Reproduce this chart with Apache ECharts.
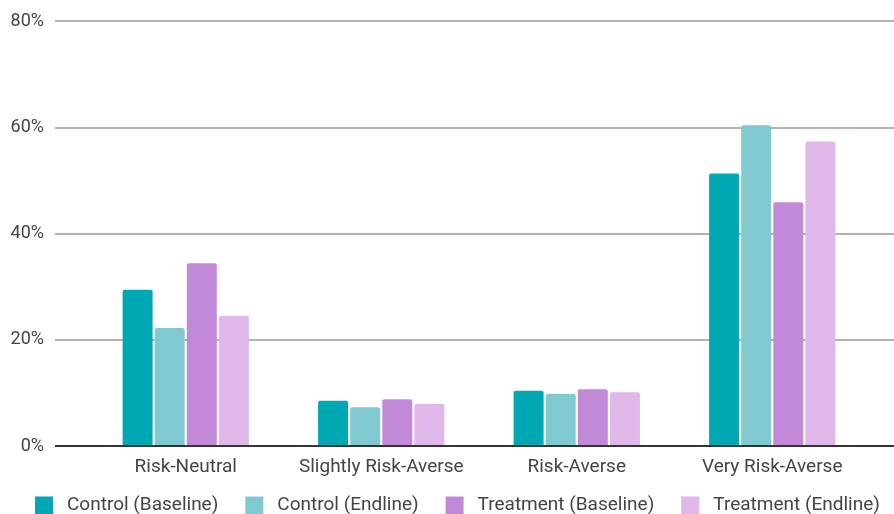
<!DOCTYPE html>
<html><head><meta charset="utf-8">
<script src="https://cdn.jsdelivr.net/npm/echarts@6/dist/echarts.min.js"></script>
<style>html,body{margin:0;padding:0;background:#fff}#c{width:894px;height:514px}</style>
</head><body><div id="c"></div>
<script>
const categories = ['Risk-Neutral', 'Slightly Risk-Averse', 'Risk-Averse', 'Very Risk-Averse'];
const controlBaseline = [29.4, 8.5, 10.4, 51.3];
const controlEndline = [22.2, 7.3, 9.8, 60.4];
const treatmentBaseline = [34.4, 8.8, 10.7, 45.9];
const treatmentEndline = [24.5, 7.9, 10.1, 57.3];
const seriesNames = ['Control (Baseline)', 'Control (Endline)', 'Treatment (Baseline)', 'Treatment (Endline)'];
const colors = ['#00a8b4', '#81c9d1', '#c289d9', '#dfb7e9'];
const yTicks = [0, 20, 40, 60, 80];

const font = 'Roboto';
const chart = echarts.init(document.getElementById('c'));
const seriesData = [controlBaseline, controlEndline, treatmentBaseline, treatmentEndline];
chart.setOption({
  animation: false,
  color: colors,
  textStyle: { fontFamily: font },
  grid: [
    { left: 55, right: 0, top: 21, bottom: 68 },
    { left: 88, right: 24, top: 21, bottom: 68 }
  ],
  xAxis: [
    { type: 'category', gridIndex: 0, data: categories, show: false },
    { type: 'category', gridIndex: 1, data: categories,
      axisLine: { show: false }, axisTick: { show: false },
      axisLabel: { color: '#444', fontSize: 19, fontFamily: font, margin: 12, interval: 0 } }
  ],
  yAxis: [
    { type: 'value', gridIndex: 0, min: 0, max: 80, interval: 20,
      axisLine: { show: false }, axisTick: { show: false },
      axisLabel: { color: '#444', fontSize: 18, fontFamily: font, margin: 11,
        formatter: v => yTicks.includes(v) ? v + '%' : '' },
      splitLine: { lineStyle: { color: '#9a9a9a', width: 1.5 } } },
    { type: 'value', gridIndex: 1, min: 0, max: 80, interval: 20, show: false,
      splitLine: { show: false } }
  ],
  legend: {
    left: 30, top: 491, itemWidth: 18, itemHeight: 18, itemGap: 27,
    icon: 'rect',
    textStyle: { color: '#444', fontSize: 19, fontFamily: font, padding: [0, 0, 0, 9] },
    data: seriesNames
  },
  series: seriesNames.map((n, i) => ({
    name: n, type: 'bar', xAxisIndex: 1, yAxisIndex: 1,
    data: seriesData[i], barWidth: 30, barGap: '7%',
    itemStyle: { borderRadius: [2, 2, 0, 0] }
  })).concat([{
    type: 'line', xAxisIndex: 0, yAxisIndex: 0, data: [], silent: true,
    markLine: { symbol: 'none', silent: true, label: { show: false },
      lineStyle: { color: '#333', width: 2, type: 'solid' },
      data: [{ yAxis: 0 }] }
  }])
});
</script></body></html>
